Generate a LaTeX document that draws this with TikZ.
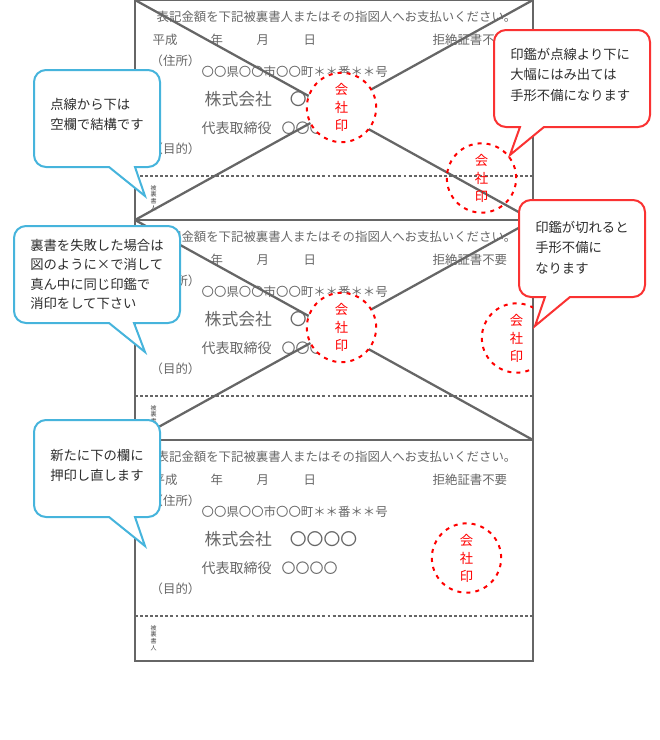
\documentclass[tikz,border=0pt]{standalone}
\usepackage{fontspec}
\setmainfont{Noto Sans CJK JP}
\definecolor{formgrey}{RGB}{102,102,102}
\definecolor{noteblue}{RGB}{70,180,220}
\definecolor{notered}{RGB}{250,50,50}
\definecolor{notetext}{RGB}{45,45,45}
\tikzset{
	formtext/.style={anchor=west,inner sep=0pt,xshift=-0.4pt,yshift=-0.6pt,text=formgrey,font=\fontsize{9.3}{11}\selectfont},
	companytext/.style={formtext,font=\fontsize{12.6}{15}\selectfont},
	officertext/.style={formtext,font=\fontsize{10.5}{13}\selectfont},
	tinytext/.style={inner sep=0pt,align=center,text=formgrey!70!black,font=\fontsize{4.5}{5}\selectfont},
	formline/.style={draw=formgrey,line width=1.7pt},
	dotline/.style={draw=formgrey,line width=1.2pt,dash pattern=on 2.2pt off 1.6pt},
	sealopen/.style={circle,draw=red,line width=1.5pt,dash pattern=on 3pt off 3.8pt,minimum size=52pt,inner sep=0pt,align=center,text=red,font=\fontsize{10}{13.5}\selectfont},
	sealfilled/.style={sealopen,fill=white},
	blueballoon/.style={draw=noteblue,line width=1.5pt,fill=white},
	redballoon/.style={draw=notered,line width=1.5pt,fill=white},
	notelabel/.style={anchor=north west,inner sep=0pt,align=left,text=notetext,font=\fontsize{10}{15.2}\selectfont},
}
\begin{document}
\begin{tikzpicture}[x=0.75pt,y=0.75pt,yscale=-1,xscale=1]
	\useasboundingbox (0,0) rectangle (660,740);

	% Text Node, upper sheet
	\node (headA) [formtext] at (157,16) {表記金額を下記被裏書人またはその指図人へお支払いください。};
	\node (eraA) [formtext] at (153,39) {平成};
	\node (yearA) [formtext] at (211,39) {年};
	\node (monthA) [formtext] at (257,39) {月};
	\node (dayA) [formtext] at (304,39) {日};
	\node (refusalA) [formtext] at (433,39) {拒絶証書不要};
	\node (addrlabelA) [formtext] at (151,60) {（住所）};
	\node (addrA) [formtext] at (202,71) {〇〇県〇〇市〇〇町＊＊番＊＊号};
	\node (companyA) [companytext] at (205,98) {株式会社\hspace{13.5pt}〇〇〇〇};
	\node (officerA) [officertext] at (202,127) {代表取締役\hspace{7.5pt}〇〇〇〇};
	\node (purposeA) [formtext] at (151,148) {（目的）};
	\node (drawerA) [tinytext] at (153.5,198) {被\\裏\\書\\人};

	% Text Node, middle sheet
	\node (headB) [formtext] at (157,236) {表記金額を下記被裏書人またはその指図人へお支払いください。};
	\node (eraB) [formtext] at (153,259) {平成};
	\node (yearB) [formtext] at (211,259) {年};
	\node (monthB) [formtext] at (257,259) {月};
	\node (dayB) [formtext] at (304,259) {日};
	\node (refusalB) [formtext] at (433,259) {拒絶証書不要};
	\node (addrlabelB) [formtext] at (151,280) {（住所）};
	\node (addrB) [formtext] at (202,291) {〇〇県〇〇市〇〇町＊＊番＊＊号};
	\node (companyB) [companytext] at (205,318) {株式会社\hspace{13.5pt}〇〇〇〇};
	\node (officerB) [officertext] at (202,347) {代表取締役\hspace{7.5pt}〇〇〇〇};
	\node (purposeB) [formtext] at (151,368) {（目的）};
	\node (drawerB) [tinytext] at (153.5,418) {被\\裏\\書\\人};

	% Text Node, lower sheet
	\node (headC) [formtext] at (157,456) {表記金額を下記被裏書人またはその指図人へお支払いください。};
	\node (eraC) [formtext] at (153,479) {平成};
	\node (yearC) [formtext] at (211,479) {年};
	\node (monthC) [formtext] at (257,479) {月};
	\node (dayC) [formtext] at (304,479) {日};
	\node (refusalC) [formtext] at (433,479) {拒絶証書不要};
	\node (addrlabelC) [formtext] at (151,500) {（住所）};
	\node (addrC) [formtext] at (202,511) {〇〇県〇〇市〇〇町＊＊番＊＊号};
	\node (companyC) [companytext] at (205,538) {株式会社\hspace{13.5pt}〇〇〇〇};
	\node (officerC) [officertext] at (202,567) {代表取締役\hspace{7.5pt}〇〇〇〇};
	\node (purposeC) [formtext] at (151,588) {（目的）};
	\node (drawerC) [tinytext] at (153.5,638) {被\\裏\\書\\人};

	%Dotted Lines
	\draw [dotline] (135,176) -- (533,176);
	\draw [dotline] (135,396) -- (533,396);
	\draw [dotline] (135,616) -- (533,616);

	%Straight Lines: the crosses
	\draw [formline] (135,0) -- (533,220);
	\draw [formline] (135,220) -- (533,0);
	\draw [formline] (135,220) -- (533,440);
	\draw [formline] (135,440) -- (533,220);

	%Shape: Rectangle, the sheets
	\draw [formline] (135,0) rectangle (533,220);
	\draw [formline] (135,220) rectangle (533,440);
	\draw [formline] (135,440) rectangle (533,661);

	%Shape: Circle, the seals
	\node (sealmidA) [sealfilled] at (341.5,107.5) {会\\社\\印};
	\node (sealoutA) [sealopen] at (481.5,178) {会\\社\\印};
	\node (sealmidB) [sealfilled] at (341.5,327.5) {会\\社\\印};
	\begin{scope}
		\clip (135,220) rectangle (533,440);
		\node (sealcutB) [sealopen] at (516.5,338) {会\\社\\印};
	\end{scope}
	\node (sealC) [sealopen] at (466.5,558) {会\\社\\印};

	%Shape: Balloon
	\draw [blueballoon] (34,118) [rounded corners=9pt] -- (34,70) -- (160,70) -- (160,167) [sharp corners] -- (135,167) -- (145,196) -- (109,167) [rounded corners=9pt] -- (34,167) -- cycle;
	\draw [redballoon] (494,78) [rounded corners=9pt] -- (494,30) -- (650,30) -- (650,127) [sharp corners] -- (544,127) -- (510,155) -- (520,127) [rounded corners=9pt] -- (494,127) -- cycle;
	\draw [redballoon] (519,248) [rounded corners=9pt] -- (519,200) -- (645,200) -- (645,297) [sharp corners] -- (570,297) -- (535,326) -- (545,297) [rounded corners=9pt] -- (519,297) -- cycle;
	\draw [blueballoon] (14,274) [rounded corners=9pt] -- (14,226) -- (180,226) -- (180,323) [sharp corners] -- (134,323) -- (145,352) -- (109,323) [rounded corners=9pt] -- (14,323) -- cycle;
	\draw [blueballoon] (34,468) [rounded corners=9pt] -- (34,420) -- (160,420) -- (160,517) [sharp corners] -- (135,517) -- (145,546) -- (109,517) [rounded corners=9pt] -- (34,517) -- cycle;

	% Text Node, balloons
	\node (noteblank) [notelabel] at (50,98) {点線から下は\\空欄で結構です};
	\node (noteover) [notelabel] at (510,48) {印鑑が点線より下に\\大幅にはみ出ては\\手形不備になります};
	\node (notecut) [notelabel] at (535,221) {印鑑が切れると\\手形不備に\\なります};
	\node (notefail) [notelabel,font=\fontsize{10}{14.5}\selectfont] at (30,239) {裏書を失敗した場合は\\図のように×で消して\\真ん中に同じ印鑑で\\消印をして下さい};
	\node (noteredo) [notelabel] at (50,449) {新たに下の欄に\\押印し直します};
\end{tikzpicture}
\end{document}
